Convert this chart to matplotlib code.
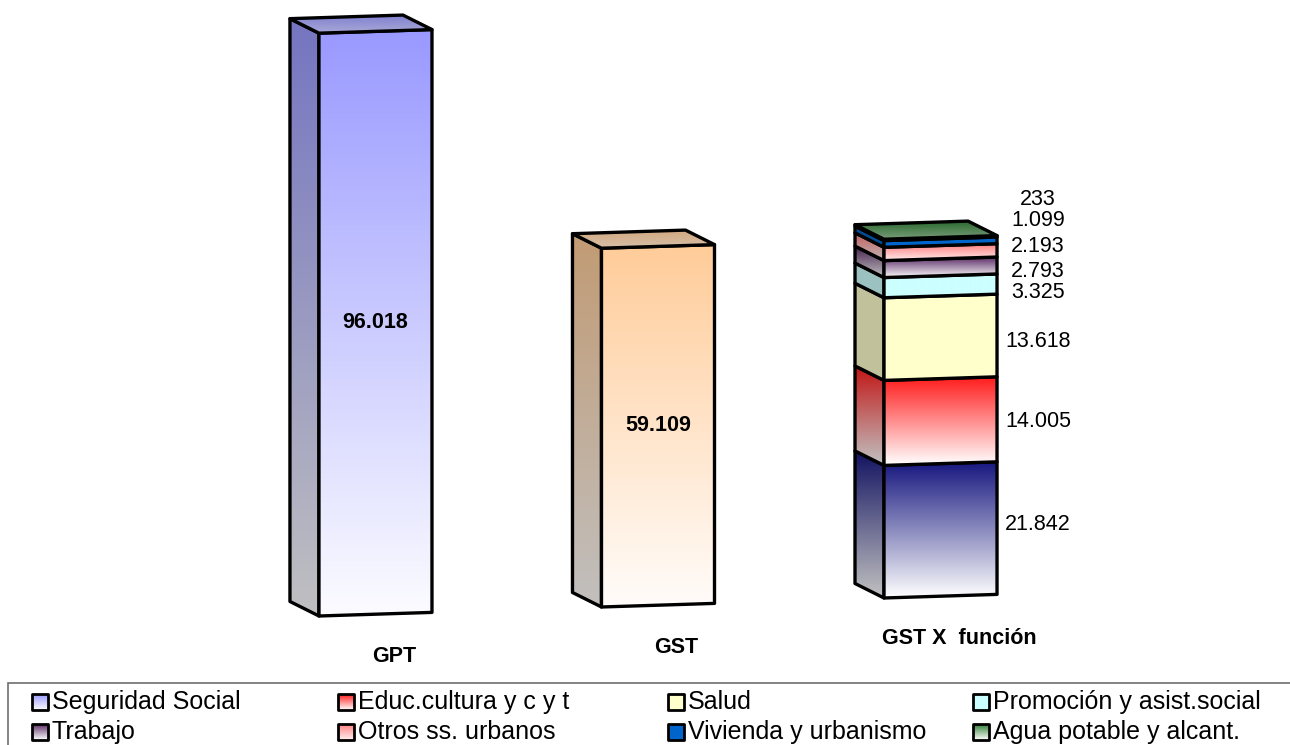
import numpy as np
import matplotlib.pyplot as plt
from matplotlib.patches import Polygon, Rectangle
from matplotlib.colors import to_rgb

plt.rcParams['font.family'] = ['Liberation Sans', 'DejaVu Sans']

# totals, in the source's own units (dot is the thousands separator)
categories = ['GPT', 'GST', 'GST X  función']
totals = [96018, 59109]
total_fills = [('#9999FF', '#FCFCFF'), ('#FFCC99', '#FFFCFA')]

# GST broken down by function, bottom to top
functions = ['Seguridad Social', 'Educ.cultura y c y t', 'Salud',
             'Promoción y asist.social', 'Trabajo', 'Otros ss. urbanos',
             'Vivienda y urbanismo', 'Agua potable y alcant.']
function_values = [21842, 14005, 13618, 3325, 2793, 2193, 1099, 233]
function_fills = [('#16167F', '#FFFFFF'), ('#FF1A1A', '#FFFFFF'),
                  ('#FFFFCC', '#FFFFCC'), ('#CCFFFF', '#CCFFFF'),
                  ('#5A2C66', '#FFFFFF'), ('#FF8080', '#FFF0F0'),
                  ('#0066CC', '#0066CC'), ('#2E7D32', '#FFFFFF')]
# nudges (px, + is down) so the small segment labels don't collide
label_nudge = [-2, 3, 7, 10, 7, -3, -19, -36]

W = 0.4            # bar width
DX, DY = -0.1027, 2390   # depth of the 3d box
TILT = 1483        # the whole chart leans slightly upward to the right
EDGE = 2.4


def fmt(v):
    return f'{v:,}'.replace(',', '.')


def tilt(x, y):
    return y + TILT * x


def darken(c, f):
    return tuple(f * v for v in to_rgb(c))


def mix(a, b, t):
    a, b = np.array(to_rgb(a)), np.array(to_rgb(b))
    return tuple((1 - t) * a + t * b)


def gradient_face(ax, verts, c_hi, c_lo, z, lw=EDGE):
    verts = np.asarray(verts, dtype=float)
    face = Polygon(verts, closed=True, fc='none', ec='none')
    ax.add_patch(face)
    t = np.linspace(0, 1, 200)[:, None, None]
    img = (1 - t) * np.array(to_rgb(c_hi)) + t * np.array(to_rgb(c_lo))
    img = np.repeat(img, 2, axis=1)
    x0, y0 = verts.min(0)
    x1, y1 = verts.max(0)
    im = ax.imshow(img, extent=(x0, x1, y0, y1), origin='upper',
                   aspect='auto', interpolation='bilinear', zorder=z)
    im.set_clip_path(face)
    ax.add_patch(Polygon(verts, closed=True, fill=False, ec='black', lw=lw,
                         joinstyle='round', zorder=z + 0.5))


def box_segment(ax, xc, bottom, top, fill, z, cap=False):
    xl, xr = xc - W / 2, xc + W / 2
    hi, lo = fill
    side = [(xl + DX, tilt(xl, bottom) + DY), (xl, tilt(xl, bottom)),
            (xl, tilt(xl, top)), (xl + DX, tilt(xl, top) + DY)]
    gradient_face(ax, side, darken(hi, 0.76), darken(lo, 0.76), z)
    front = [(xl, tilt(xl, bottom)), (xr, tilt(xr, bottom)),
             (xr, tilt(xr, top)), (xl, tilt(xl, top))]
    gradient_face(ax, front, hi, lo, z + 1)
    if cap:
        lid = [(xl, tilt(xl, top)), (xr, tilt(xr, top)),
               (xr + DX, tilt(xr, top) + DY), (xl + DX, tilt(xl, top) + DY)]
        gradient_face(ax, lid, darken(hi, 0.82), mix(darken(hi, 0.9), '#C8C8C8', 0.5), z + 2)


fig = plt.figure(figsize=(12.9, 7.45), dpi=100)
ax = fig.add_axes([0, 0, 1, 1])

# single bars
for i, (v, fill) in enumerate(zip(totals, total_fills)):
    box_segment(ax, i, 0, v, fill, 10, cap=True)
    ax.text(i, tilt(i, v / 2), fmt(v), ha='center', va='center',
            fontsize=15.5, fontweight='bold', zorder=30)

# stacked bar
xs = len(totals)
base = 0
for j, (v, fill) in enumerate(zip(function_values, function_fills)):
    last = j == len(function_values) - 1
    box_segment(ax, xs, base, base + v, fill, 10 + 3 * j, cap=last)
    xl = xs + 0.345
    ax.annotate(fmt(v), (xl, tilt(xl, base + v / 2)),
                xytext=(0, -label_nudge[j] * 0.72), textcoords='offset points',
                ha='center', va='center', fontsize=15.5, zorder=40)
    base += v

for i, name in enumerate(categories):
    ax.text(i + 0.065, tilt(i + 0.065, -7000), name, ha='center', va='center',
            fontsize=15.5, fontweight='bold')

ax.set_xlim(-1.329, 3.237)
ax.set_ylim(-21549, 101186)
ax.axis('off')

# legend box along the bottom edge
lax = fig.add_axes([0, 0, 1, 1], zorder=5)
lax.set_xlim(0, 1290)
lax.set_ylim(0, 745)
lax.axis('off')
lax.add_patch(Rectangle((8, -50), 1400, 112, fill=False, ec='#6E6E6E', lw=1.2))

legend_fills = [total_fills[0]] + function_fills[1:]
col_x = [32, 338, 668, 973]
row_y = [43, 13]
sq = 16
for k, (name, fill) in enumerate(zip(functions, legend_fills)):
    x, y = col_x[k % 4], row_y[k // 4]
    sqv = [(x, y - sq / 2), (x + sq, y - sq / 2), (x + sq, y + sq / 2), (x, y + sq / 2)]
    gradient_face(lax, sqv, fill[0], fill[1], 6, lw=2.0)
    lax.text(x + sq + 4, y, name, ha='left', va='center', fontsize=18)

fig.savefig('out.png', dpi=100)
